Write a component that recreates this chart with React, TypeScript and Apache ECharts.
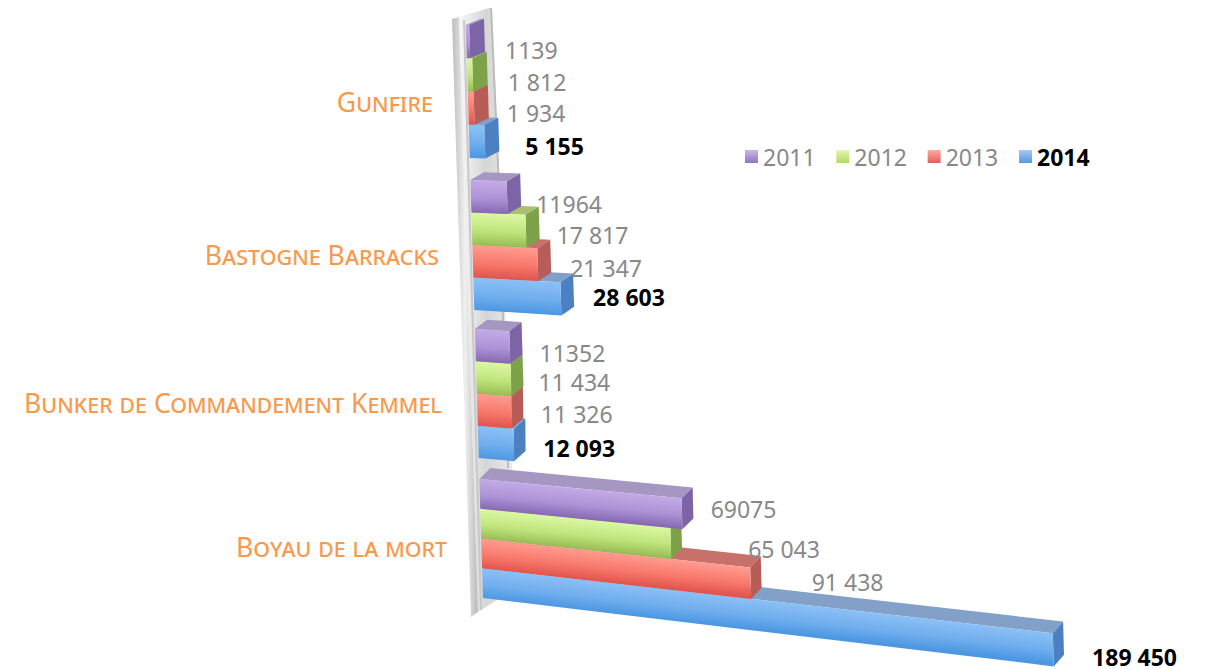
import React, { useEffect, useRef } from "react";
import * as echarts from "echarts";

const categories = ["Gunfire", "Bastogne Barracks", "Bunker de Commandement Kemmel", "Boyau de la mort"];
const years = ["2011", "2012", "2013", "2014"];
const values2011 = [1139, 11964, 11352, 69075];
const values2012 = [1812, 17817, 11434, 65043];
const values2013 = [1934, 21347, 11326, 91438];
const values2014 = [5155, 28603, 12093, 189450];
const labels2011 = ["1139", "11964", "11352", "69075"];
const labels2012 = ["1 812", "17 817", "11 434", "65 043"];
const labels2013 = ["1 934", "21 347", "11 326", "91 438"];
const labels2014 = ["5 155", "28 603", "12 093", "189 450"];

const seriesValues = [values2011, values2012, values2013, values2014];
const seriesLabels = [labels2011, labels2012, labels2013, labels2014];

// layout constants of the tilted 3D look
const GRID_LEFT = 465;
const GRID_TOP = 18.5;
const BAND = 149;
const PX_PER_UNIT = 0.00295;
const X_MAX = 200000;
const bandShift = [-1.5, 3, 2.5, -1.5];
const rowHeight = [33.2, 32.5, 32.2, 29.8];
const catLabelRight = [433, 439, 442, 447];
const catLabelMidY = [102, 255, 403, 547];
const labelGapX = [
  [21, 21, 19, 27],
  [16, 18, 20, 20],
  [18, 16, 18, 18],
  [18, 67, 51, 29],
];
const labelGapY = [
  [8, 7, 5, 4],
  [6, 4, 3, -2],
  [5, 2, 2, 3],
  [-5, 5, -1, 7],
];

const FONT = '"Noto Sans", sans-serif';

const palettes = [
  { stops: ["#c4aae6", "#ad92d6", "#8669b2"], side: "#7d64a6", top: "#a596c2", legend: ["#cdb8ea", "#9173bb"] },
  { stops: ["#dcf8a2", "#c0e47c", "#96bd54"], side: "#7ea24a", top: "#a8c070", legend: ["#e2f9ae", "#b4d764"] },
  { stops: ["#ff9c90", "#f8786c", "#e0544c"], side: "#b85c58", top: "#c8706a", legend: ["#ffaaa4", "#e0605a"] },
  { stops: ["#8cc0f6", "#70aeee", "#4c97e2"], side: "#4c80c2", top: "#82a0c8", legend: ["#a4c8fa", "#5898dc"] },
];

const wallX = (y: number) => GRID_LEFT + 0.03 * y;
const tilt = (y: number) => 0.04 + (y - 200) * 0.0002;
const stretch = (u: number, y: number) => {
  const t = Math.min(1, Math.max(0, (y - 400) / 80));
  return u * (1 + 8.5e-5 * u) * (1.025 - 0.05 * t);
};
const project = (u: number, y: number): number[] => {
  const w = stretch(u, y);
  return [wallX(y) + w, y + tilt(y) * w];
};

const makeRender = (s: number) => (params: any, api: any) => {
  const cat = api.value(0);
  const value = api.value(1);
  const end = api.coord([value, cat]);
  const base = api.coord([0, cat]);
  const u = end[0] - base[0];
  const h = rowHeight[cat];
  const yc = base[1] + bandShift[cat];
  const y1 = yc + (s - 2) * h;
  const y2 = y1 + h;
  const a = project(0, y1);
  const b = project(u, y1);
  const c = project(u, y2);
  const d = project(0, y2);
  const dx = 15 - (y1 * 5) / 600;
  const dy = -(6 + (y1 * 6) / 600);
  const sl = tilt(y1);
  const p = palettes[s];
  const fill = new echarts.graphic.LinearGradient(
    a[0], a[1], a[0] - sl * h, a[1] + h,
    [
      { offset: 0, color: p.stops[0] },
      { offset: 0.55, color: p.stops[1] },
      { offset: 1, color: p.stops[2] },
    ],
    true
  );
  const text = seriesLabels[s][cat];
  const bold = s === 3;
  return {
    type: "group",
    children: [
      { type: "polygon", shape: { points: [a, b, [b[0] + dx, b[1] + dy], [a[0] + dx, a[1] + dy]] }, style: { fill: p.top } },
      { type: "polygon", shape: { points: [b, c, [c[0] + dx, c[1] + dy], [b[0] + dx, b[1] + dy]] }, style: { fill: p.side } },
      { type: "polygon", shape: { points: [a, b, c, d] }, style: { fill } },
      {
        type: "text",
        style: {
          x: b[0] + dx + labelGapX[cat][s],
          y: (b[1] + c[1]) / 2 + labelGapY[cat][s],
          text,
          fill: bold ? "#000000" : "#888888",
          font: `${bold ? "bold " : ""}23px ${FONT}`,
          textAlign: "left",
          textVerticalAlign: "middle",
        },
      },
    ],
  };
};

const renderCategory = (params: any, api: any) => {
  const cat = api.value(0);
  return {
    type: "text",
    style: {
      x: catLabelRight[cat],
      y: catLabelMidY[cat],
      text: categories[cat],
      fill: "#f9994c",
      font: `small-caps 26.6px ${FONT}`,
      textAlign: "right",
      textVerticalAlign: "middle",
    },
  };
};

export default function App() {
  const ref = useRef<HTMLDivElement>(null);
  useEffect(() => {
    const chart = echarts.init(ref.current!, undefined, { renderer: "svg" });
    const wallGrad = new echarts.graphic.LinearGradient(0, 0, 1, 0, [
      { offset: 0, color: "#bcbcbc" },
      { offset: 0.5, color: "#f0f0f0" },
      { offset: 1, color: "#b8b8b8" },
    ]);
    const panelGrad = new echarts.graphic.LinearGradient(0, 0, 1, 0, [
      { offset: 0, color: "#f8f8f8" },
      { offset: 0.5, color: "#d6d6d6" },
      { offset: 1, color: "#e8e8e8" },
    ]);
    chart.setOption({
      animation: false,
      backgroundColor: "#ffffff",
      textStyle: { fontFamily: FONT },
      grid: { left: GRID_LEFT, top: GRID_TOP, width: PX_PER_UNIT * X_MAX, height: BAND * 4 },
      xAxis: { type: "value", min: 0, max: X_MAX, show: false },
      yAxis: { type: "category", data: categories, inverse: true, show: false },
      legend: {
        left: 740,
        top: 140,
        itemWidth: 13,
        itemHeight: 13,
        itemGap: 20.7,
        icon: "rect",
        selectedMode: false,
        textStyle: { fontSize: 23, color: "#888888", fontFamily: FONT },
        data: years.map((name, i) => ({
          name,
          itemStyle: {
            color: new echarts.graphic.LinearGradient(0, 0, 0, 1, [
              { offset: 0, color: palettes[i].legend[0] },
              { offset: 1, color: palettes[i].legend[1] },
            ]),
          },
          ...(i === 3 ? { textStyle: { color: "#000000", fontWeight: "bold" } } : {}),
        })),
      },
      graphic: [
        { type: "polygon", z: 0, shape: { points: [[459, 17], [489, 8], [492, 8], [512, 470], [497, 600], [478, 612]] }, style: { fill: panelGrad } },
        { type: "polyline", z: 0, shape: { points: [[491, 8], [498, 165], [503, 320], [508, 468]] }, style: { stroke: "#bcbcbc", lineWidth: 2, fill: "none" } },
        { type: "polyline", z: 0, shape: { points: [[464, 20], [481, 610]] }, style: { stroke: "#c8c8c8", lineWidth: 2, fill: "none" } },
        { type: "polygon", z: 0, shape: { points: [[452, 19], [459, 17], [478, 612], [471, 617]] }, style: { fill: wallGrad } },
      ],
      series: [
        ...years.map((name, s) => ({
          type: "custom",
          name,
          z: 5 - s,
          coordinateSystem: "cartesian2d",
          encode: { x: 1, y: 0 },
          clip: false,
          renderItem: makeRender(s),
          data: seriesValues[s].map((v, c) => [c, v]),
        })),
        {
          type: "custom",
          name: "categories",
          z: 6,
          coordinateSystem: "cartesian2d",
          encode: { y: 0 },
          clip: false,
          renderItem: renderCategory,
          data: categories.map((_, c) => [c, 0]),
        },
      ],
    });
    return () => chart.dispose();
  }, []);
  return <div ref={ref} style={{ position: "fixed", left: 0, top: 0, width: 1212, height: 669 }} />;
}
